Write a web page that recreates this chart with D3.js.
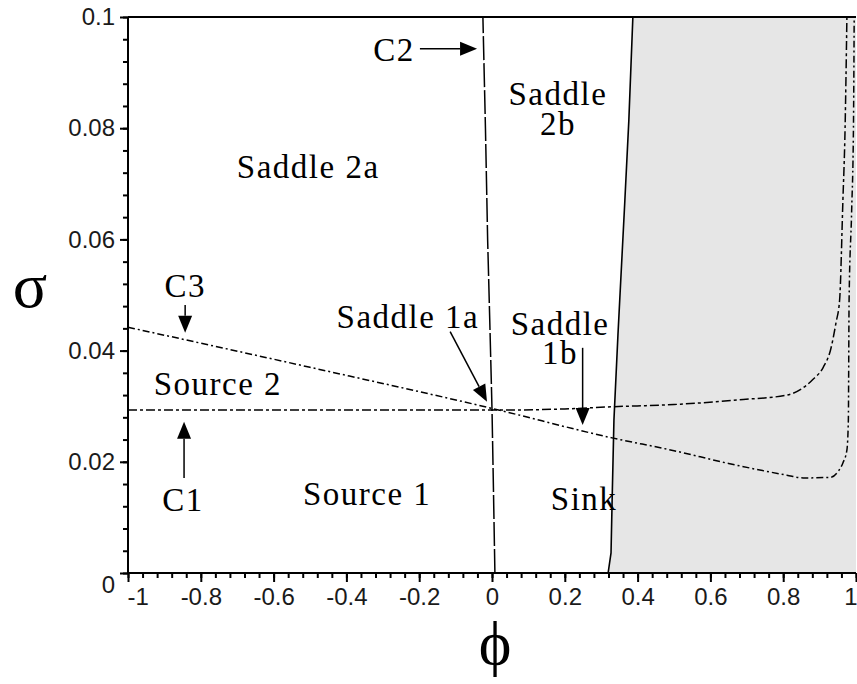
<!DOCTYPE html>
<html>
<head>
<meta charset="utf-8">
<script src="https://cdn.jsdelivr.net/npm/d3@7"></script>
<style>
  body { margin: 0; background: #fff; }
  .tick text { font-family: "Liberation Sans", Arial, sans-serif; font-size: 24px; fill: #1a1a1a; }
  .ann { font-family: "Liberation Serif", "Times New Roman", serif; font-size: 33px; letter-spacing: 1.5px; fill: #000; }
  .title { font-family: "Liberation Serif", "DejaVu Serif", serif; fill: #000; }
</style>
</head>
<body>
<div id="chart-area"></div>
<script>
// tick values and labels
const xTicks = [-1, -0.8, -0.6, -0.4, -0.2, 0, 0.2, 0.4, 0.6, 0.8, 1];
const xTickLabels = ["-1", "-0.8", "-0.6", "-0.4", "-0.2", "0", "0.2", "0.4", "0.6", "0.8", "1"];
const yTicks = [0, 0.02, 0.04, 0.06, 0.08, 0.1];
const yTickLabels = ["0", "0.02", "0.04", "0.06", "0.08", "0.1"];

// curves as [phi, sigma]
const curveC1 = [[-1, 0.0293], [0, 0.0293], [0.2, 0.0295], [0.33, 0.0299], [0.5, 0.0303], [0.69, 0.0312],
  [0.81, 0.032], [0.88, 0.0347], [0.91, 0.037], [0.93, 0.0401], [0.945, 0.045], [0.955, 0.0491],
  [0.964, 0.067], [0.97, 0.08], [0.975, 0.1]];
const curveC3 = [[-1, 0.0442], [-0.5, 0.037], [0, 0.0296], [0.33, 0.0243], [0.5, 0.022], [0.65, 0.0197],
  [0.81, 0.0176], [0.855, 0.0171], [0.93, 0.0172], [0.95, 0.0182], [0.964, 0.0198], [0.975, 0.0221],
  [0.979, 0.0275], [0.981, 0.049], [0.988, 0.065], [0.993, 0.08], [0.995, 0.1]];
const curveC2 = [[0.008, 0], [0.004, 0.015], [0, 0.0295], [-0.006, 0.045], [-0.012, 0.06], [-0.018, 0.08], [-0.025, 0.1]];
const sinkEdge = [[0.319, 0], [0.327, 0.0036], [0.33, 0.013], [0.335, 0.0275], [0.346, 0.0428],
  [0.365, 0.067], [0.376, 0.0815], [0.387, 0.1]];

// annotation texts
const labelText = ["C2", "Saddle\n2b", "Saddle 2a", "C3", "Saddle 1a", "Saddle\n1b", "Source 2", "C1", "Source 1", "Sink"];

document.addEventListener("DOMContentLoaded", function () {
  var margin = { left: 128, right: 1, top: 17, bottom: 111 };
  var width = 857 - margin.left - margin.right,
      height = 684 - margin.top - margin.bottom;

  var svg = d3.select("#chart-area")
    .append("svg")
      .attr("width", 857)
      .attr("height", 684);
  var g = svg.append("g")
    .attr("transform", "translate(" + margin.left + ", " + margin.top + ")");

  let x = d3.scaleLinear().domain([-1, 1]).range([0, width]);
  let y = d3.scaleLinear().domain([0, 0.1]).range([height, 0]);

  // label placement, in data units: phi, sigma, anchor, line gap (px)
  const labelPos = [
    [-0.212, 0.092, "end", 0], [0.181, 0.0842, "middle", 30], [-0.505, 0.0711, "middle", 0],
    [-0.843, 0.0497, "middle", 0], [-0.231, 0.0441, "middle", 0], [0.187, 0.0428, "middle", 29],
    [-0.753, 0.032, "middle", 0], [-0.849, 0.0112, "middle", 0], [-0.343, 0.0122, "middle", 0], [0.253, 0.0113, "middle", 0]
  ];
  const arrows = [
    [-0.198, 0.0943, -0.041, 0.0943],
    [-0.843, 0.0482, -0.843, 0.0432],
    [-0.115, 0.0434, -0.0137, 0.0308],
    [0.249, 0.0405, 0.249, 0.0266],
    [-0.846, 0.0171, -0.846, 0.0272]
  ];

  let line = d3.line().x(d => x(d[0])).y(d => y(d[1]));

  // shaded region right of the sink edge
  g.append("path")
    .attr("d", line(sinkEdge.concat([[1, 0.1], [1, 0]])) + "Z")
    .attr("fill", "#e6e6e6");

  g.append("path")
    .attr("d", line(sinkEdge))
    .attr("fill", "none").attr("stroke", "#000").attr("stroke-width", 1.6);

  let smooth = d3.line().x(d => x(d[0])).y(d => y(d[1])).curve(d3.curveMonotoneX);

  g.append("path")
    .attr("d", smooth(curveC1))
    .attr("fill", "none").attr("stroke", "#000").attr("stroke-width", 1.5)
    .attr("stroke-dasharray", "9,3,3,3");

  g.append("path")
    .attr("d", smooth(curveC3))
    .attr("fill", "none").attr("stroke", "#000").attr("stroke-width", 1.5)
    .attr("stroke-dasharray", "7,3,2,3");

  g.append("path")
    .attr("d", line(curveC2))
    .attr("fill", "none").attr("stroke", "#000").attr("stroke-width", 1.5)
    .attr("stroke-dasharray", "24,3");

  // axes
  let xMinor = d3.axisBottom(x).tickValues(d3.range(-1, 1.001, 0.04)).tickFormat("").tickSize(5);
  let yMinor = d3.axisLeft(y).tickValues(d3.range(0, 0.1001, 0.004)).tickFormat("").tickSize(5);

  g.append("g").attr("class", "x-minor").attr("transform", "translate(0, " + height + ")").call(xMinor);
  g.append("g").attr("class", "y-minor").call(yMinor);

  let xAxis = d3.axisBottom(x)
    .tickValues(xTicks)
    .tickFormat((d, i) => xTickLabels[i])
    .tickSize(9)
    .tickPadding(6);
  let yAxis = d3.axisLeft(y)
    .tickValues(yTicks)
    .tickFormat((d, i) => yTickLabels[i])
    .tickSize(8)
    .tickPadding(5);

  g.append("g")
    .attr("class", "x-axis")
    .attr("transform", "translate(0, " + height + ")")
    .call(xAxis);
  g.append("g")
    .attr("class", "y-axis")
    .call(yAxis);

  g.selectAll(".domain, .tick line").attr("stroke", "#000").attr("stroke-width", 2);
  g.selectAll(".x-axis .domain, .x-minor .domain").attr("d", "M0,0H" + width);
  g.selectAll(".y-axis .domain, .y-minor .domain").attr("d", "M0,0V" + height);

  let xLabels = g.select(".x-axis").selectAll(".tick text");
  xLabels.filter((d, i) => i === 0).attr("text-anchor", "start").attr("x", -1);
  xLabels.filter((d, i) => i === xTicks.length - 1).attr("text-anchor", "end").attr("x", 1);
  g.select(".y-axis").selectAll(".tick text")
    .filter((d, i) => i === 0).attr("dy", "0.82em");

  // top border
  g.append("line")
    .attr("x1", 0).attr("x2", width)
    .attr("y1", y(0.1)).attr("y2", y(0.1))
    .attr("stroke", "#000").attr("stroke-width", 2);

  // annotations (multi-line via tspans)
  let ann = g.selectAll(".ann")
    .data(labelText)
    .enter()
    .append("text")
    .attr("class", "ann")
    .attr("x", (d, i) => x(labelPos[i][0]))
    .attr("y", (d, i) => y(labelPos[i][1]))
    .attr("text-anchor", (d, i) => labelPos[i][2]);

  ann.each(function (d, i) {
    let t = d3.select(this);
    d.split("\n").forEach((s, k) => {
      t.append("tspan")
        .attr("x", x(labelPos[i][0]))
        .attr("dy", k === 0 ? 0 : labelPos[i][3])
        .text(s);
    });
  });

  arrows.forEach(a => {
    let x1 = x(a[0]), y1 = y(a[1]), x2 = x(a[2]), y2 = y(a[3]);
    let ang = Math.atan2(y2 - y1, x2 - x1);
    let len = 17, hw = 7;
    let bx = x2 - len * Math.cos(ang), by = y2 - len * Math.sin(ang);
    g.append("line")
      .attr("x1", x1).attr("y1", y1).attr("x2", bx).attr("y2", by)
      .attr("stroke", "#000").attr("stroke-width", 1.5);
    g.append("path")
      .attr("d", "M" + x2 + "," + y2 +
        "L" + (bx + hw * Math.sin(ang)) + "," + (by - hw * Math.cos(ang)) +
        "L" + (bx - hw * Math.sin(ang)) + "," + (by + hw * Math.cos(ang)) + "Z")
      .attr("fill", "#000");
  });

  // axis titles
  svg.append("text")
    .attr("class", "title")
    .attr("x", 30).attr("y", 307)
    .attr("text-anchor", "middle")
    .attr("font-size", "64px")
    .text("σ");
  svg.append("text")
    .attr("class", "title")
    .attr("x", 495).attr("y", 664)
    .attr("text-anchor", "middle")
    .attr("font-size", "62px")
    .text("ϕ");
});
</script>
</body>
</html>
